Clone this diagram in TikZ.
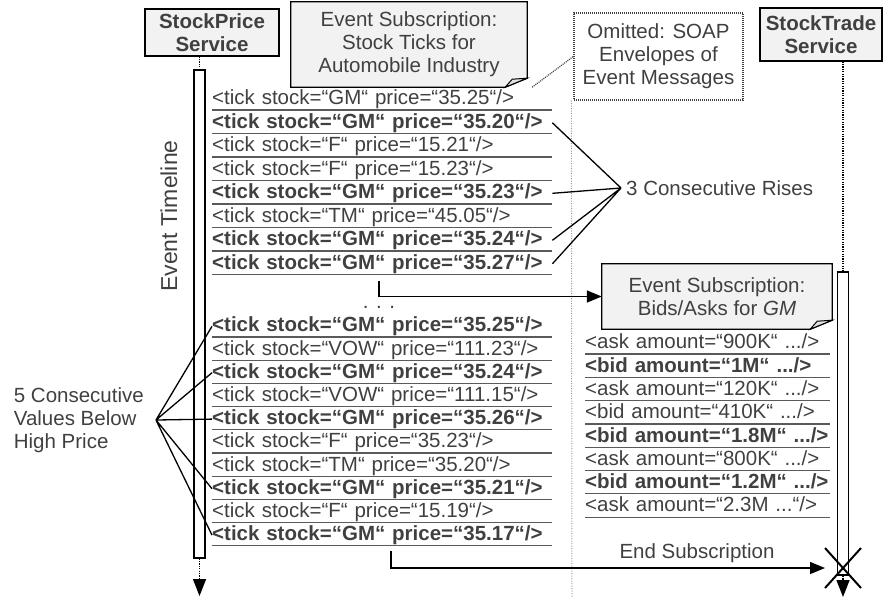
\documentclass[tikz,border=0pt]{standalone}
\usepackage{fontspec}
\setmainfont{Liberation Sans}
\usetikzlibrary{arrows.meta,shapes.misc}

% folded corner for the note boxes
\newcommand\dogear[1]{%
  \fill[white] ([yshift=9pt]#1.south east) -- (#1.south east) -- ([xshift=-22pt]#1.south east) -- cycle;
  \draw[box] (#1.north west) -- (#1.north east) -- ([yshift=9pt]#1.south east) -- ([xshift=-22pt]#1.south east) -- (#1.south west) -- cycle;
  \filldraw[box, fill=fold, line width=1pt] ([yshift=9pt]#1.south east) -- ([xshift=-22pt]#1.south east) -- ([xshift=-15pt,yshift=8pt]#1.south east) -- cycle;}

\begin{document}
\begin{tikzpicture}[x=1pt, y=-1pt,
    every node/.style={text=ink, font=\fontsize{20.5}{23}\selectfont},
    box/.style={draw=black, line width=1.3pt},
    head/.style={box, fill=paper, align=center, inner sep=0pt, font=\fontsize{20.5}{23}\selectfont\bfseries},
    note/.style={fill=paper, align=center, inner sep=0pt},
    bar/.style={box, fill=white, minimum width=11pt, inner sep=0pt},
    rule/.style={draw=rulegray, line width=1.2pt},
    row/.style={anchor=south west, inner sep=0pt, text width=340pt, align=left, text height=16pt, text depth=5pt,
      append after command={(\tikzlastnode.south west) edge[rule] (\tikzlastnode.south east)}},
    hi/.style={row, font=\fontsize{20.5}{23}\selectfont\bfseries},
    ask/.style={row, text width=245pt},
    bid/.style={hi, text width=245pt},
    link/.style={line width=1.3pt},
    msg/.style={line width=1.5pt, -{Triangle[length=15pt,width=12pt]}},
    endtip/.style={line width=1.5pt, -{Triangle[length=17pt,width=13pt]}},
    life/.style={line width=1.5pt, dash pattern=on 1.2pt off 1.2pt},
  ]
    % Define colors
    \definecolor{ink}{RGB}{64,64,64}
    \definecolor{paper}{RGB}{242,242,242}
    \definecolor{fold}{RGB}{225,225,225}
    \definecolor{rulegray}{RGB}{90,90,90}
    \definecolor{sepgray}{RGB}{150,150,150}

    \useasboundingbox (0,0) rectangle (885,598);

    % Services and their lifelines
    \node[head, minimum width=134pt, minimum height=47pt] (sp) at (212,32.5) {StockPrice\\Service};
    \node[head, minimum width=122pt, minimum height=53pt] (st) at (821,34.5) {StockTrade\\Service};
    \node[bar, minimum height=488pt] (spbar) at (199.5,314) {};
    \node[bar, minimum height=303pt] (stbar) at (843,423.5) {};
    \coordinate (spend) at (199.5,596);
    \coordinate (stend) at (843,597);
    \draw[life] (spbar.north |- sp.south) -- (spbar.north);
    \draw[life] (spbar.south) -- ([yshift=16pt]spend);
    \draw[endtip] ([yshift=18pt]spend) -- (spend);
    \draw[life] (stbar.north |- st.south) -- (stbar.north);
    \draw[life] (stbar.south) -- ([yshift=16pt]stend);
    \draw[endtip] ([yshift=18pt]stend) -- (stend);
    \node[rotate=90, font=\fontsize{23}{26}\selectfont] (timeline) at (169,216) {Event Timeline};

    % Subscription notes
    \node[note, minimum width=236pt, minimum height=85pt] (stk) at (409,44.5) {Event Subscription:\\Stock Ticks for\\Automobile Industry};
    \dogear{stk}
    \node[note, minimum width=230pt, minimum height=65pt] (bids) at (717,296.5) {Event Subscription:\\Bids/Asks for \textit{GM}};
    \dogear{bids}
    \node[draw=ink, line width=1.3pt, dash pattern=on 1pt off 1pt, align=center, minimum width=169pt, minimum height=87pt, inner sep=0pt] (omit) at (658.5,56.5) {Omitted: SOAP\\Envelopes of\\Event Messages};
    \draw[draw=ink, line width=1.2pt, dash pattern=on 1pt off 1pt] ([xshift=5pt]stk.south east) -- (omit.west);
    \draw[draw=sepgray, line width=1pt, dash pattern=on 1pt off 1.5pt] ([xshift=-2pt]omit.south west) -- (572,598);

    % Stock ticks, first part
    \node[row] (t1) at (212,110) {<tick stock=“GM“ price=“35.25“/>};
    \node[hi]  (t2) at (212,133.5) {<tick stock=“GM“ price=“35.20“/>};
    \node[row] (t3) at (212,157) {<tick stock=“F“ price=“15.21“/>};
    \node[row] (t4) at (212,180.5) {<tick stock=“F“ price=“15.23“/>};
    \node[hi]  (t5) at (212,204) {<tick stock=“GM“ price=“35.23“/>};
    \node[row] (t6) at (212,227.5) {<tick stock=“TM“ price=“45.05“/>};
    \node[hi]  (t7) at (212,251) {<tick stock=“GM“ price=“35.24“/>};
    \node[hi]  (t8) at (212,274.5) {<tick stock=“GM“ price=“35.27“/>};
    \node[anchor=base] (dots) at (379,308) {. . .};

    % Stock ticks, second part
    \node[hi]  (u1) at (212,337) {<tick stock=“GM“ price=“35.25“/>};
    \node[row] (u2) at (212,360.2) {<tick stock=“VOW“ price=“111.23“/>};
    \node[hi]  (u3) at (212,383.4) {<tick stock=“GM“ price=“35.24“/>};
    \node[row] (u4) at (212,406.6) {<tick stock=“VOW“ price=“111.15“/>};
    \node[hi]  (u5) at (212,429.8) {<tick stock=“GM“ price=“35.26“/>};
    \node[row] (u6) at (212,453) {<tick stock=“F“ price=“35.23“/>};
    \node[row] (u7) at (212,476.2) {<tick stock=“TM“ price=“35.20“/>};
    \node[hi]  (u8) at (212,499.4) {<tick stock=“GM“ price=“35.21“/>};
    \node[row] (u9) at (212,522.6) {<tick stock=“F“ price=“15.19“/>};
    \node[hi]  (u10) at (212,545.8) {<tick stock=“GM“ price=“35.17“/>};

    % Bids and asks
    \node[ask] (q1) at (585,354) {<ask amount=“900K“ .../>};
    \node[bid] (q2) at (585,377.3) {<bid amount=“1M“ .../>};
    \node[ask] (q3) at (585,400.6) {<ask amount=“120K“ .../>};
    \node[ask] (q4) at (585,423.9) {<bid amount=“410K“ .../>};
    \node[bid] (q5) at (585,447.2) {<bid amount=“1.8M“ .../>};
    \node[ask] (q6) at (585,470.5) {<ask amount=“800K“ .../>};
    \node[bid] (q7) at (585,493.8) {<bid amount=“1.2M“ .../>};
    \node[ask] (q8) at (585,517.1) {<ask amount=“2.3M ...“/>};

    % Patterns
    \node[anchor=west, inner xsep=5pt] (rises) at (621,188) {3 Consecutive Rises};
    \draw[link] (t2.east) -- (rises.west) (t5.east) -- (rises.west) (t7.east) -- (rises.west) (t8.east) -- (rises.west);
    \node[anchor=east, align=left, inner xsep=12pt] (below) at (156,420) {5 Consecutive\\Values Below\\High Price};
    \draw[link] (below.east) -- (u1.west) (below.east) -- (u3.west) (below.east) -- (u5.west) (below.east) -- (u8.west) (below.east) -- (u10.west);

    % Subscribe and end subscription
    \coordinate (sub) at (379,281);
    \draw[msg] (sub) |- (bids.west);
    \node[draw, cross out, line width=2pt, minimum width=34pt, minimum height=38pt, inner sep=0pt] (cross) at (843,568) {};
    \coordinate (endsub) at (391,551);
    \draw[msg] (endsub) |- (cross.west);
    \node (endlbl) at (697,553) {End Subscription};
\end{tikzpicture}
\end{document}
